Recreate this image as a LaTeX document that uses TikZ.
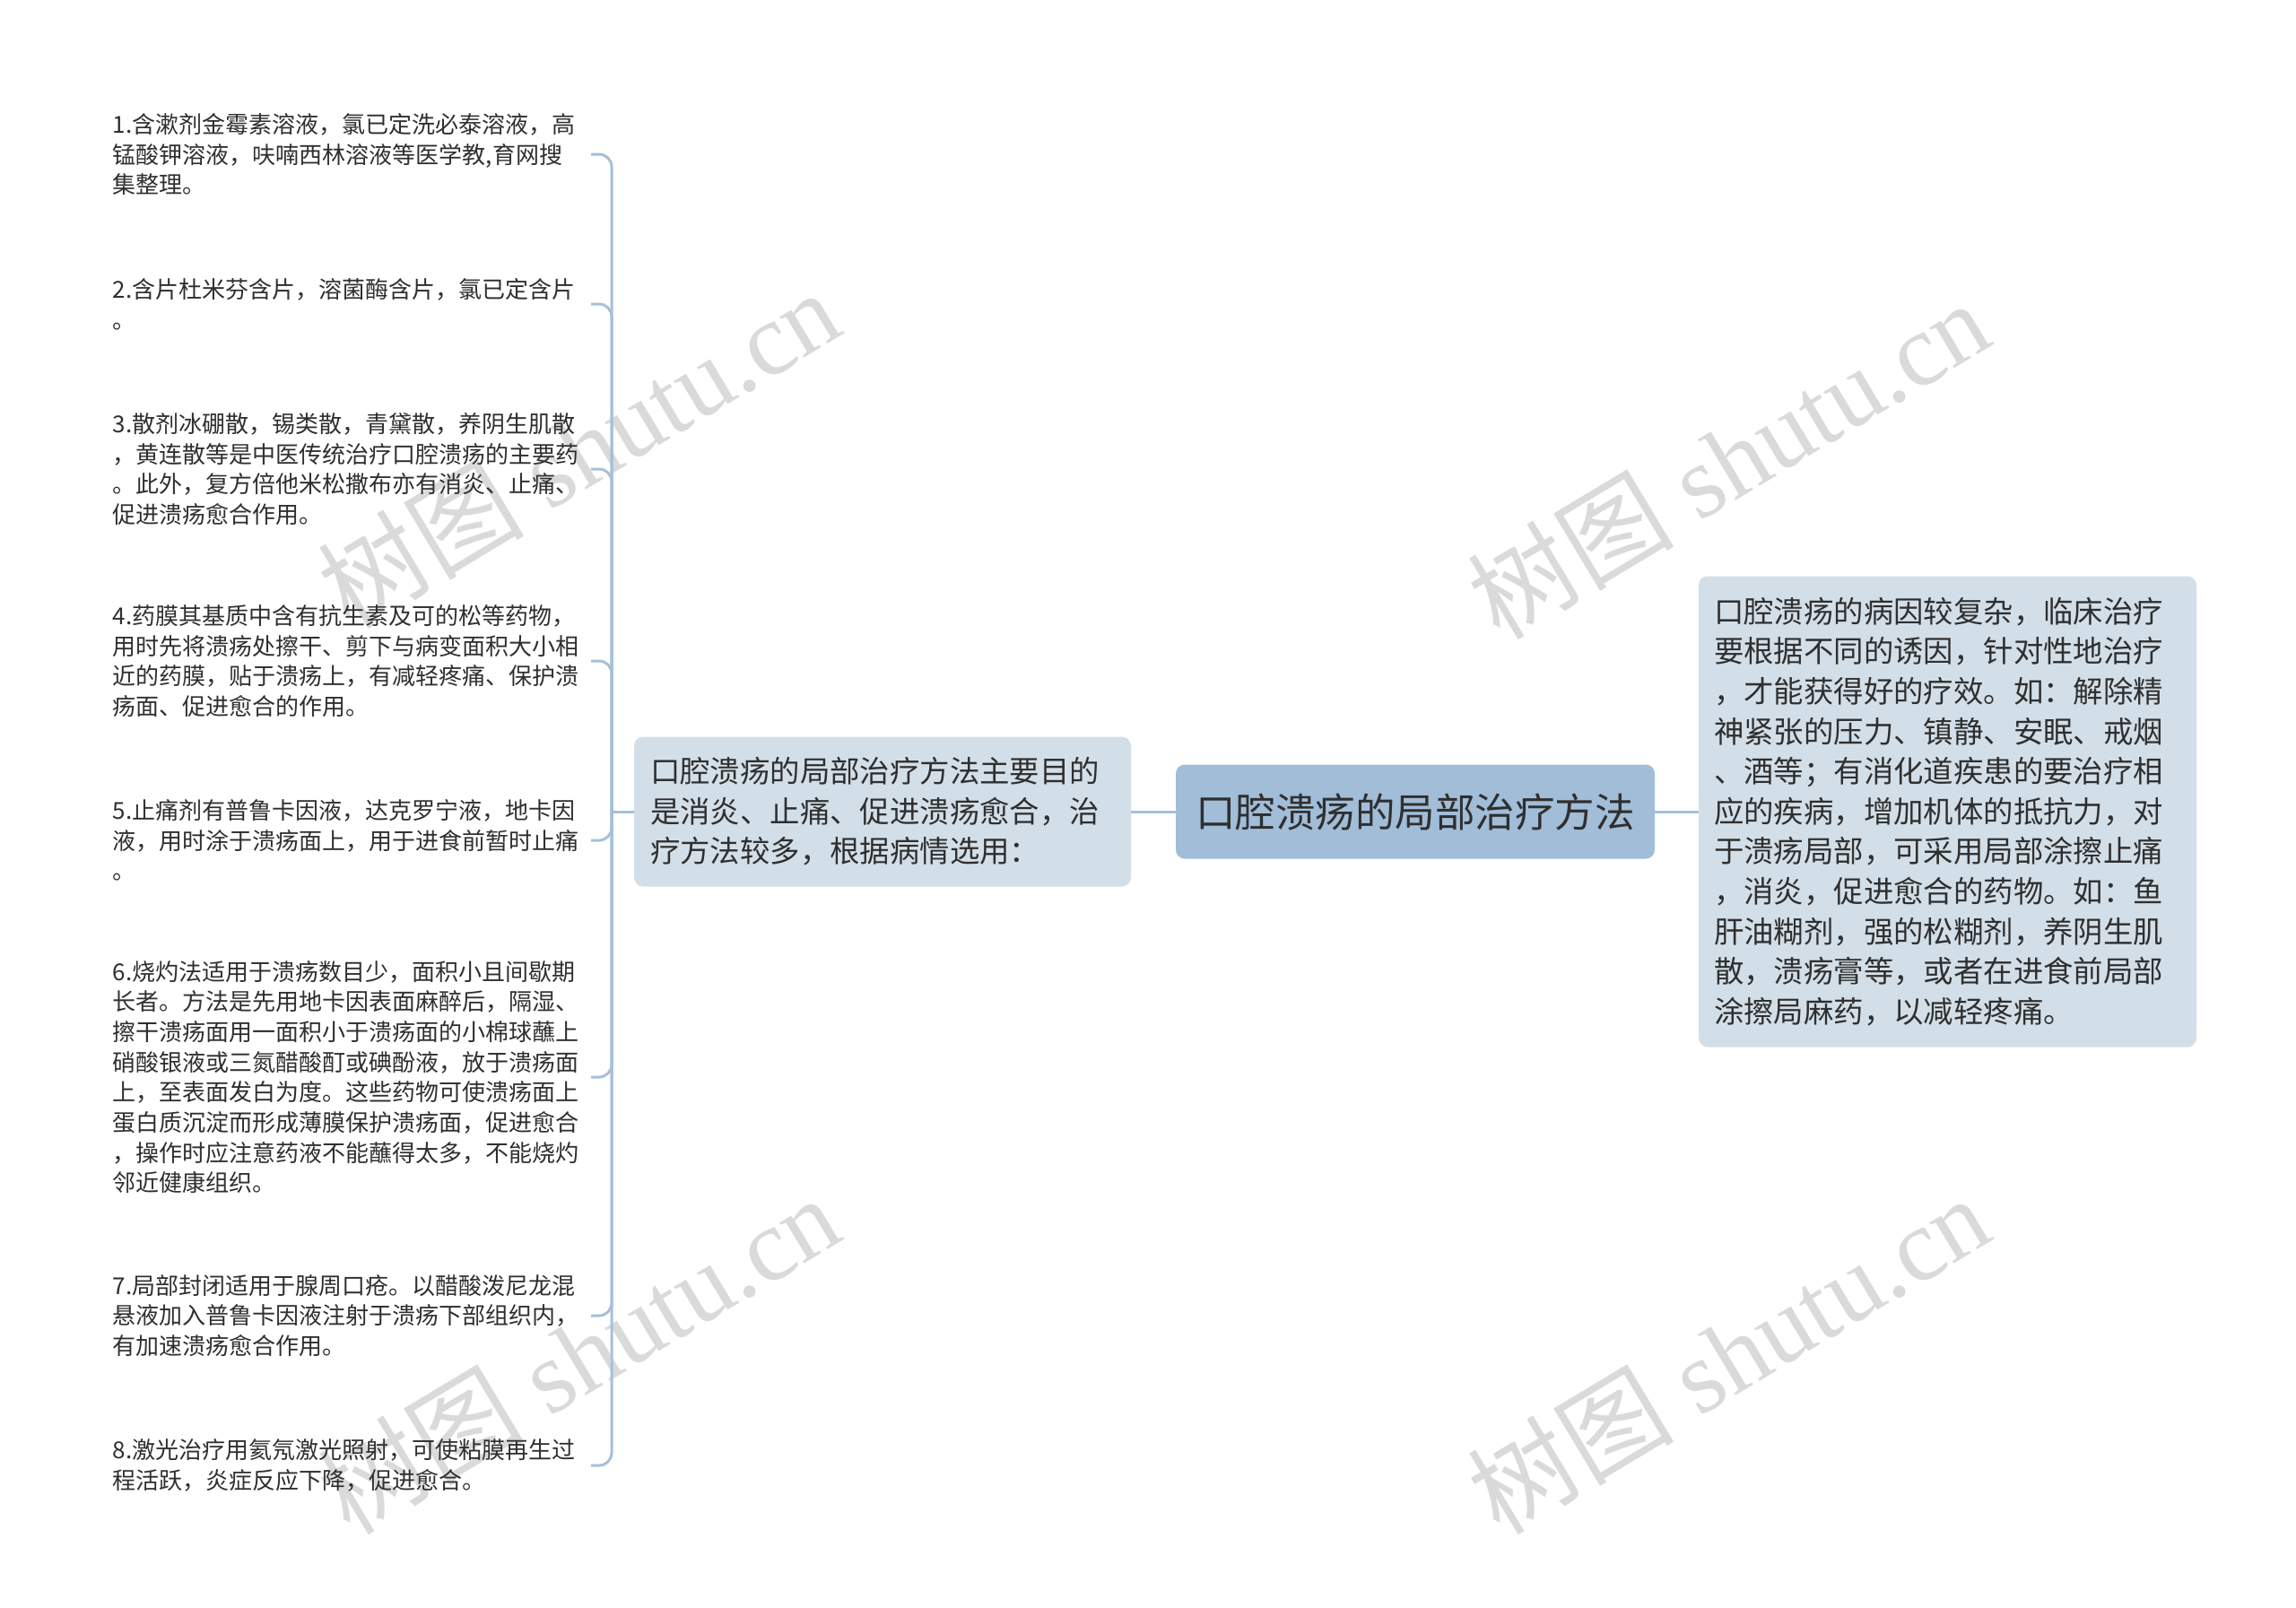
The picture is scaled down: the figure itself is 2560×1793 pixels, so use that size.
\documentclass[tikz,border=0pt]{standalone}
\usepackage{fontspec}
\setmainfont{Noto Sans CJK SC}
\newfontfamily\wmlatin{Liberation Serif}
\newfontfamily\cjk{Noto Sans CJK SC}
\definecolor{lineblue}{HTML}{A6C0DA}
\definecolor{rootfill}{HTML}{A1BDD8}
\definecolor{boxfill}{HTML}{D3DFE8}
\definecolor{txt}{HTML}{2F2F2F}
\definecolor{wm}{HTML}{DADADA}
\begin{document}
\begin{tikzpicture}[x=1pt,y=-1pt,
  conn/.style={draw=lineblue, line width=3pt},
  leaf/.style={anchor=east, inner sep=0pt, text width=533pt, align=left,
    font=\cjk\fontsize{26}{33.7}\selectfont, text=txt},
  box/.style={fill=boxfill, rounded corners=10pt, inner xsep=17pt, inner ysep=0pt,
    align=left, text=txt, font=\cjk\fontsize{33.4}{44.4}\selectfont},
  rootbox/.style={fill=rootfill, rounded corners=10pt, minimum width=534pt,
    minimum height=105pt, inner sep=0pt, text=txt, font=\cjk\fontsize{44.5}{50}\selectfont},
  wmark/.style={text=wm, rotate=31, inner sep=0pt, font=\fontsize{115}{115}\selectfont}
]
\useasboundingbox[fill=white] (0,0) rectangle (2560,1793);

% watermarks
\foreach \wx/\wy in {645/500, 1927/512, 645/1510, 1927/1510}{
  \node[wmark] at (\wx,\wy) {\cjk 树图\hspace{0.25em}\wmlatin shutu.cn};
}

% nodes
\node[rootbox] (root) at (1578,905) {口腔溃疡的局部治疗方法};
\node[box, text width=518pt, inner xsep=18pt, minimum height=167pt] (mid) at (984,905)
  {口腔溃疡的局部治疗方法主要目的\\是消炎、止痛、促进溃疡愈合，治\\疗方法较多，根据病情选用：};
\node[box, text width=521pt, minimum height=525pt,
  font=\cjk\fontsize{33.4}{44.6}\selectfont] (rgt) at (2171.5,905)
  {口腔溃疡的病因较复杂，临床治疗\\要根据不同的诱因，针对性地治疗\\，才能获得好的疗效。如：解除精\\神紧张的压力、镇静、安眠、戒烟\\、酒等；有消化道疾患的要治疗相\\应的疾病，增加机体的抵抗力，对\\于溃疡局部，可采用局部涂擦止痛\\，消炎，促进愈合的药物。如：鱼\\肝油糊剂，强的松糊剂，养阴生肌\\散，溃疡膏等，或者在进食前局部\\涂擦局麻药，以减轻疼痛。};

\node[leaf] (leaf1) at (659,172) {1.含漱剂金霉素溶液，氯已定洗必泰溶液，高\\锰酸钾溶液，呋喃西林溶液等医学教,育网搜\\集整理。};
\node[leaf] (leaf2) at (659,339) {2.含片杜米芬含片，溶菌酶含片，氯已定含片\\。};
\node[leaf] (leaf3) at (659,523) {3.散剂冰硼散，锡类散，青黛散，养阴生肌散\\，黄连散等是中医传统治疗口腔溃疡的主要药\\。此外，复方倍他米松撒布亦有消炎、止痛、\\促进溃疡愈合作用。};
\node[leaf] (leaf4) at (659,737) {4.药膜其基质中含有抗生素及可的松等药物，\\用时先将溃疡处擦干、剪下与病变面积大小相\\近的药膜，贴于溃疡上，有减轻疼痛、保护溃\\疡面、促进愈合的作用。};
\node[leaf] (leaf5) at (659,937) {5.止痛剂有普鲁卡因液，达克罗宁液，地卡因\\液，用时涂于溃疡面上，用于进食前暂时止痛\\。};
\node[leaf] (leaf6) at (659,1201) {6.烧灼法适用于溃疡数目少，面积小且间歇期\\长者。方法是先用地卡因表面麻醉后，隔湿、\\擦干溃疡面用一面积小于溃疡面的小棉球蘸上\\硝酸银液或三氮醋酸酊或碘酚液，放于溃疡面\\上，至表面发白为度。这些药物可使溃疡面上\\蛋白质沉淀而形成薄膜保护溃疡面，促进愈合\\，操作时应注意药液不能蘸得太多，不能烧灼\\邻近健康组织。};
\node[leaf] (leaf7) at (659,1467) {7.局部封闭适用于腺周口疮。以醋酸泼尼龙混\\悬液加入普鲁卡因液注射于溃疡下部组织内，\\有加速溃疡愈合作用。};
\node[leaf] (leaf8) at (659,1634) {8.激光治疗用氦氖激光照射，可使粘膜再生过\\程活跃，炎症反应下降，促进愈合。};

% connectors
\coordinate (jn) at (682,905);
\draw[conn] (root.west) -- (mid.east);
\draw[conn] (root.east) -- (rgt.west);
\draw[conn] (mid.west) -- (jn);
\foreach \i in {1,...,8}{
  \draw[conn, rounded corners=14pt] (jn) |- (leaf\i.east);
}
\end{tikzpicture}
\end{document}
